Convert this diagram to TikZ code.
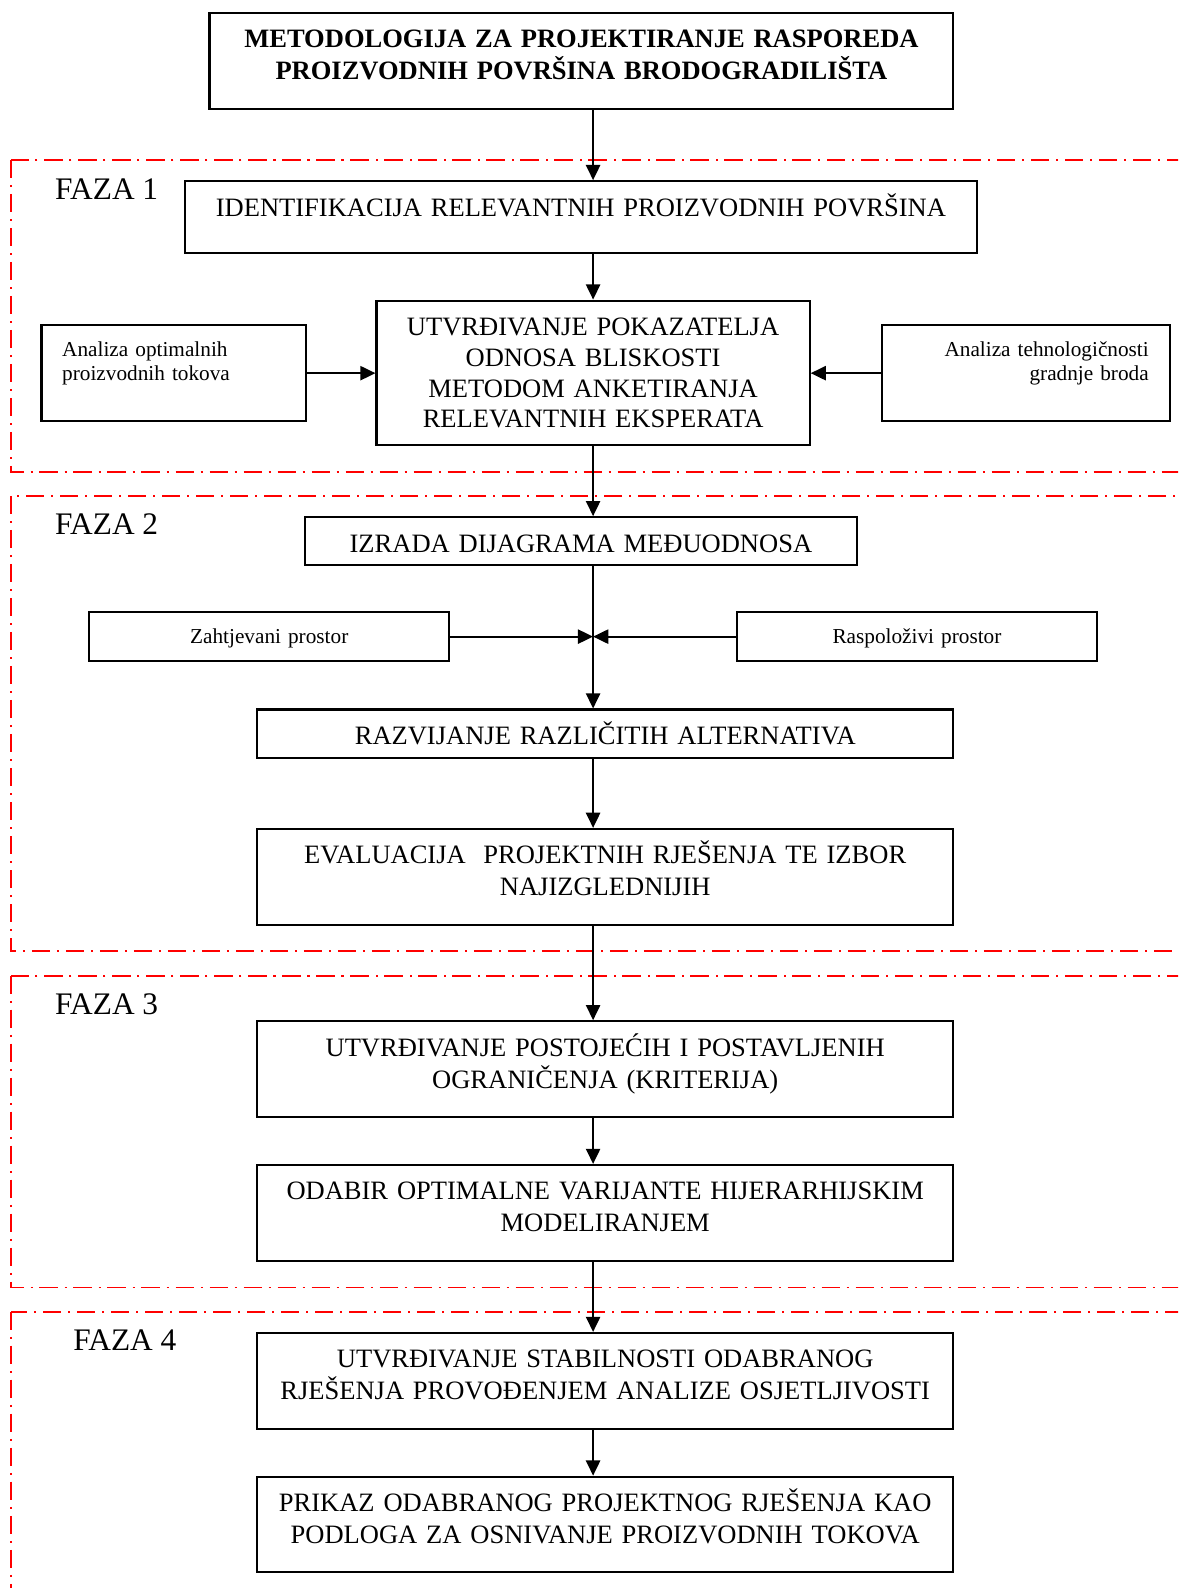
\documentclass[tikz,border=0pt]{standalone}
\usepackage{fontspec}
\setmainfont{Liberation Serif}
\usetikzlibrary{arrows.meta}

\tikzset{
  korak/.style={draw, line width=1pt, inner sep=0pt, anchor=north, align=center,
    font=\fontsize{13.1}{15.7}\selectfont, text height=17.3pt},
  ulaz/.style={draw, line width=1pt, inner ysep=0pt, anchor=north,
    font=\fontsize{10.5}{12}\selectfont, text height=15.6pt},
  faza/.style={draw=red, line width=0.9pt, dash pattern=on 9pt off 3.4pt on 1pt off 3.4pt},
  oznaka/.style={anchor=base west, inner sep=0pt, font=\fontsize{15.5}{18}\selectfont},
  strelica/.style={line width=1pt, -{Triangle[length=7.5pt,width=7pt]}}
}

\begin{document}
\begin{tikzpicture}[x=0.5pt,y=-0.5pt]
\useasboundingbox (0,0) rectangle (1164,1569);
\clip (0,0) rectangle (1164,1569);

\draw[faza] (11,158) rectangle (1190,466);
\draw[faza] (11,490) rectangle (1190,940);
\draw[faza] (11,964) rectangle (1190,1272);
\draw[faza] (11,1296) rectangle (1190,1620);

\node[oznaka] (faza1) at (54,197) {FAZA 1};
\node[oznaka] (faza2) at (54,528) {FAZA 2};
\node[oznaka] (faza3) at (54,1002) {FAZA 3};
\node[oznaka] (faza4) at (72,1334) {FAZA 4};

\node[korak, font=\fontsize{13.1}{15.7}\selectfont\bfseries, text width=367.5pt, text depth=30.2pt] (naslov) at (574.5,11.5)
  {METODOLOGIJA ZA PROJEKTIRANJE RASPOREDA\\PROIZVODNIH POVRŠINA BRODOGRADILIŠTA};
\node[korak, text width=391pt, text depth=18.2pt] (ident) at (574,178)
  {IDENTIFIKACIJA RELEVANTNIH PROIZVODNIH POVRŠINA};
\node[korak, font=\fontsize{13.1}{15.2}\selectfont, text width=214pt, text depth=54pt] (utvr) at (586,296)
  {UTVRĐIVANJE POKAZATELJA\\ODNOSA BLISKOSTI\\METODOM ANKETIRANJA\\RELEVANTNIH EKSPERATA};
\node[ulaz, align=left, inner xsep=10.25pt, text width=110pt, text depth=32.1pt] (tokovi) at (171.5,320)
  {Analiza optimalnih\\proizvodnih tokova};
\node[ulaz, align=right, inner xsep=10.5pt, text width=121.5pt, text depth=32.1pt] (tehn) at (1013.5,320)
  {Analiza tehnologičnosti\\gradnje broda};

\node[korak, text width=273pt, text depth=6.45pt] (izrada) at (574,510) {IZRADA DIJAGRAMA MEĐUODNOSA};
\node[ulaz, align=center, inner xsep=0pt, text width=178pt, text height=15.5pt, text depth=8.5pt] (zaht) at (266,604)
  {Zahtjevani prostor};
\node[ulaz, align=center, inner xsep=0pt, text width=178pt, text height=15.5pt, text depth=8.5pt] (rasp) at (906,604)
  {Raspoloživi prostor};
\node[korak, text width=344pt, text depth=6.45pt] (razv) at (598,700) {RAZVIJANJE RAZLIČITIH ALTERNATIVA};
\node[korak, text width=344pt, text depth=30pt] (eval) at (598,818)
  {EVALUACIJA\ \ PROJEKTNIH RJEŠENJA TE IZBOR\\NAJIZGLEDNIJIH};

\node[korak, text width=344pt, text depth=30pt] (post) at (598,1008)
  {UTVRĐIVANJE POSTOJEĆIH I POSTAVLJENIH\\OGRANIČENJA (KRITERIJA)};
\node[korak, text width=344pt, text depth=30pt] (odab) at (598,1150)
  {ODABIR OPTIMALNE VARIJANTE HIJERARHIJSKIM\\MODELIRANJEM};

\node[korak, text width=344pt, text depth=30pt] (stab) at (598,1316)
  {UTVRĐIVANJE STABILNOSTI ODABRANOG\\RJEŠENJA PROVOĐENJEM ANALIZE OSJETLJIVOSTI};
\node[korak, text width=344pt, text depth=30pt] (prikaz) at (598,1458)
  {PRIKAZ ODABRANOG PROJEKTNOG RJEŠENJA KAO\\PODLOGA ZA OSNIVANJE PROIZVODNIH TOKOVA};

\coordinate (os) at (586,0);
\coordinate (spoj) at (zaht.east -| os);
\draw[strelica] (tokovi.east) -- (tokovi.east -| utvr.west);
\draw[strelica] (tehn.west) -- (tehn.west -| utvr.east);
\draw[strelica] (zaht.east) -- (spoj);
\draw[strelica] (rasp.west) -- (spoj);
\foreach \a/\b in {naslov/ident,ident/utvr,utvr/izrada,izrada/razv,razv/eval,eval/post,post/odab,odab/stab,stab/prikaz}
{ \draw[strelica] (\a.south -| os) -- (\b.north -| os);
}
\end{tikzpicture}
\end{document}
